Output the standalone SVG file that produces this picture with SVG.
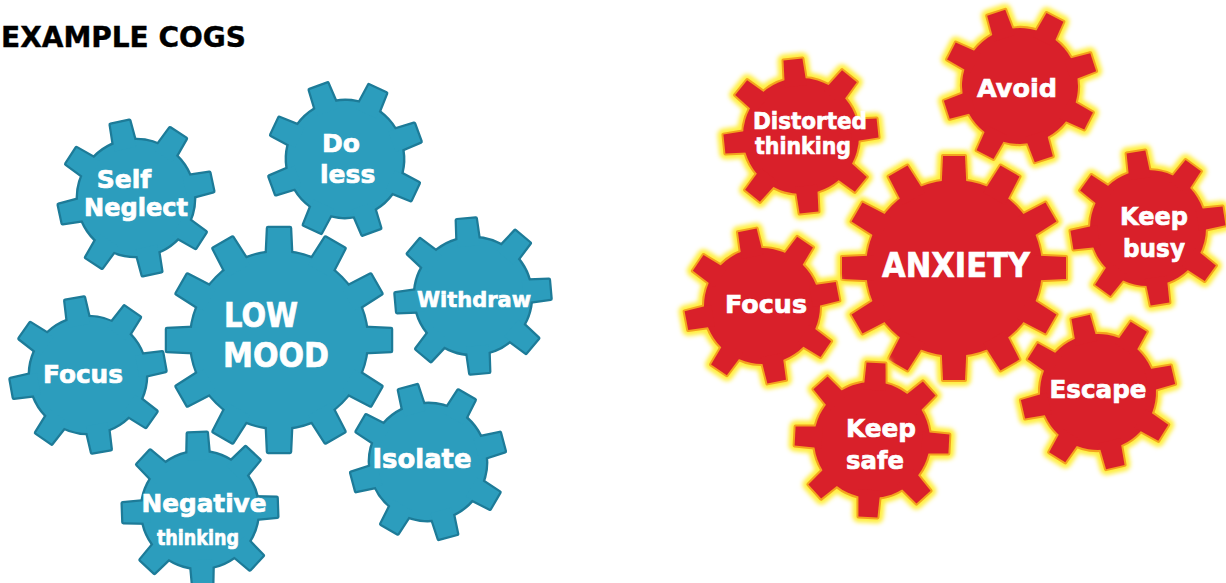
<svg xmlns="http://www.w3.org/2000/svg" xmlns:xlink="http://www.w3.org/1999/xlink" width="1226" height="583" viewBox="0 0 1226 583">
<style>
.bedge{fill:#1d7b98;stroke:#1d7b98;stroke-width:4.5;stroke-linejoin:round}
.bfill{fill:#2c9dbd;stroke:none}
.rglow{fill:#ffee40;stroke:#ffee40;stroke-width:12;stroke-linejoin:round;filter:url(#blur)}
.rmid{fill:#f4a21e;stroke:#f4a21e;stroke-width:4;stroke-linejoin:round}
.rfill{fill:#d9202a;stroke:none}
text{font-family:"DejaVu Sans","Liberation Sans",sans-serif;font-weight:bold;fill:#ffffff;stroke:#ffffff;stroke-width:0.7}
.title{fill:#000000;stroke:#000000;stroke-width:0.4;font-size:28px}
</style>
<defs>
<filter id="blur" x="-20%" y="-20%" width="140%" height="140%"><feGaussianBlur stdDeviation="2.2"/></filter>
<path id="ts" d="M-11,-50 L-9.5,-77 L9.5,-77 L11,-50Z"/>
<g id="gs">
<circle r="58"/>
<use xlink:href="#ts"/><use xlink:href="#ts" transform="rotate(45)"/><use xlink:href="#ts" transform="rotate(90)"/><use xlink:href="#ts" transform="rotate(135)"/>
<use xlink:href="#ts" transform="rotate(180)"/><use xlink:href="#ts" transform="rotate(225)"/><use xlink:href="#ts" transform="rotate(270)"/><use xlink:href="#ts" transform="rotate(315)"/>
</g>
<path id="tl" d="M-12.5,-80 L-11,-112 L11,-112 L12.5,-80Z"/>
<g id="gl">
<circle r="88"/>
<use xlink:href="#tl"/><use xlink:href="#tl" transform="rotate(30)"/><use xlink:href="#tl" transform="rotate(60)"/><use xlink:href="#tl" transform="rotate(90)"/>
<use xlink:href="#tl" transform="rotate(120)"/><use xlink:href="#tl" transform="rotate(150)"/><use xlink:href="#tl" transform="rotate(180)"/><use xlink:href="#tl" transform="rotate(210)"/>
<use xlink:href="#tl" transform="rotate(240)"/><use xlink:href="#tl" transform="rotate(270)"/><use xlink:href="#tl" transform="rotate(300)"/><use xlink:href="#tl" transform="rotate(330)"/>
</g>
</defs>
<rect width="1226" height="583" fill="#ffffff"/>
<text class="title" x="1" y="47">EXAMPLE COGS</text>

<g id="selfneglect">
<use xlink:href="#gs" class="bedge" transform="translate(136,198) rotate(-12)"/>
<use xlink:href="#gs" class="bfill" transform="translate(136,198) rotate(-12)"/>
<text x="124" y="188" font-size="25" text-anchor="middle">Self</text>
<text x="136" y="216" font-size="25" text-anchor="middle" textLength="104" lengthAdjust="spacingAndGlyphs">Neglect</text>
</g>
<g id="doless">
<use xlink:href="#gs" class="bedge" transform="translate(345,159) rotate(-20)"/>
<use xlink:href="#gs" class="bfill" transform="translate(345,159) rotate(-20)"/>
<text x="322" y="152" font-size="25">Do</text>
<text x="320" y="183" font-size="25">less</text>
</g>
<g id="withdraw">
<use xlink:href="#gs" class="bedge" transform="translate(473,296) rotate(-5)"/>
<use xlink:href="#gs" class="bfill" transform="translate(473,296) rotate(-5)"/>
<text x="474" y="307" font-size="22" text-anchor="middle" textLength="114" lengthAdjust="spacingAndGlyphs">Withdraw</text>
</g>
<g id="focusblue">
<use xlink:href="#gs" class="bedge" transform="translate(88,375) rotate(-10)"/>
<use xlink:href="#gs" class="bfill" transform="translate(88,375) rotate(-10)"/>
<text x="83" y="383" font-size="25" text-anchor="middle" textLength="80" lengthAdjust="spacingAndGlyphs">Focus</text>
</g>
<g id="lowmood">
<use xlink:href="#gl" class="bedge" transform="translate(279,340)"/>
<use xlink:href="#gl" class="bfill" transform="translate(279,340)"/>
<text x="224" y="327" font-size="33" textLength="74" lengthAdjust="spacingAndGlyphs">LOW</text>
<text x="223" y="367" font-size="33" textLength="106" lengthAdjust="spacingAndGlyphs">MOOD</text>
</g>
<g id="isolate">
<use xlink:href="#gs" class="bedge" transform="translate(428,462) rotate(-15)"/>
<use xlink:href="#gs" class="bfill" transform="translate(428,462) rotate(-15)"/>
<text x="422" y="468" font-size="26" text-anchor="middle" textLength="99" lengthAdjust="spacingAndGlyphs">Isolate</text>
</g>
<g id="negative">
<use xlink:href="#gs" class="bedge" transform="translate(200,510) rotate(-2)"/>
<use xlink:href="#gs" class="bfill" transform="translate(200,510) rotate(-2)"/>
<text x="204" y="512" font-size="25" text-anchor="middle" textLength="125" lengthAdjust="spacingAndGlyphs">Negative</text>
<text x="198" y="545" font-size="21" text-anchor="middle" textLength="82" lengthAdjust="spacingAndGlyphs">thinking</text>
</g>

<g id="distorted">
<use xlink:href="#gs" class="rglow" transform="translate(801,136) rotate(-6)"/>
<use xlink:href="#gs" class="rmid" transform="translate(801,136) rotate(-6)"/>
<use xlink:href="#gs" class="rfill" transform="translate(801,136) rotate(-6)"/>
<text x="810" y="129" font-size="23" text-anchor="middle" textLength="114" lengthAdjust="spacingAndGlyphs">Distorted</text>
<text x="803" y="154" font-size="23" text-anchor="middle" textLength="96" lengthAdjust="spacingAndGlyphs">thinking</text>
</g>
<g id="avoid">
<use xlink:href="#gs" class="rglow" transform="translate(1020,86) rotate(-18)"/>
<use xlink:href="#gs" class="rmid" transform="translate(1020,86) rotate(-18)"/>
<use xlink:href="#gs" class="rfill" transform="translate(1020,86) rotate(-18)"/>
<text x="1017" y="97" font-size="25" text-anchor="middle" textLength="80" lengthAdjust="spacingAndGlyphs">Avoid</text>
</g>
<g id="anxiety">
<use xlink:href="#gl" class="rglow" transform="translate(954,268)"/>
<use xlink:href="#gl" class="rmid" transform="translate(954,268)"/>
<use xlink:href="#gl" class="rfill" transform="translate(954,268)"/>
<text x="956" y="277" font-size="33" text-anchor="middle" textLength="148" lengthAdjust="spacingAndGlyphs">ANXIETY</text>
</g>
<g id="keepbusy">
<use xlink:href="#gs" class="rglow" transform="translate(1148,228) rotate(-9)"/>
<use xlink:href="#gs" class="rmid" transform="translate(1148,228) rotate(-9)"/>
<use xlink:href="#gs" class="rfill" transform="translate(1148,228) rotate(-9)"/>
<text x="1154" y="225" font-size="25" text-anchor="middle" textLength="68" lengthAdjust="spacingAndGlyphs">Keep</text>
<text x="1154" y="257" font-size="25" text-anchor="middle" textLength="62" lengthAdjust="spacingAndGlyphs">busy</text>
</g>
<g id="focusred">
<use xlink:href="#gs" class="rglow" transform="translate(762,306) rotate(-11)"/>
<use xlink:href="#gs" class="rmid" transform="translate(762,306) rotate(-11)"/>
<use xlink:href="#gs" class="rfill" transform="translate(762,306) rotate(-11)"/>
<text x="766" y="313" font-size="25" text-anchor="middle" textLength="82" lengthAdjust="spacingAndGlyphs">Focus</text>
</g>
<g id="keepsafe">
<use xlink:href="#gs" class="rglow" transform="translate(872,440) rotate(3)"/>
<use xlink:href="#gs" class="rmid" transform="translate(872,440) rotate(3)"/>
<use xlink:href="#gs" class="rfill" transform="translate(872,440) rotate(3)"/>
<text x="881" y="437" font-size="25" text-anchor="middle" textLength="70" lengthAdjust="spacingAndGlyphs">Keep</text>
<text x="875" y="469" font-size="25" text-anchor="middle" textLength="58" lengthAdjust="spacingAndGlyphs">safe</text>
</g>
<g id="escape">
<use xlink:href="#gs" class="rglow" transform="translate(1098,392) rotate(-13)"/>
<use xlink:href="#gs" class="rmid" transform="translate(1098,392) rotate(-13)"/>
<use xlink:href="#gs" class="rfill" transform="translate(1098,392) rotate(-13)"/>
<text x="1098" y="398" font-size="25" text-anchor="middle" textLength="97" lengthAdjust="spacingAndGlyphs">Escape</text>
</g>
<g id="connectors"/>
</svg>
